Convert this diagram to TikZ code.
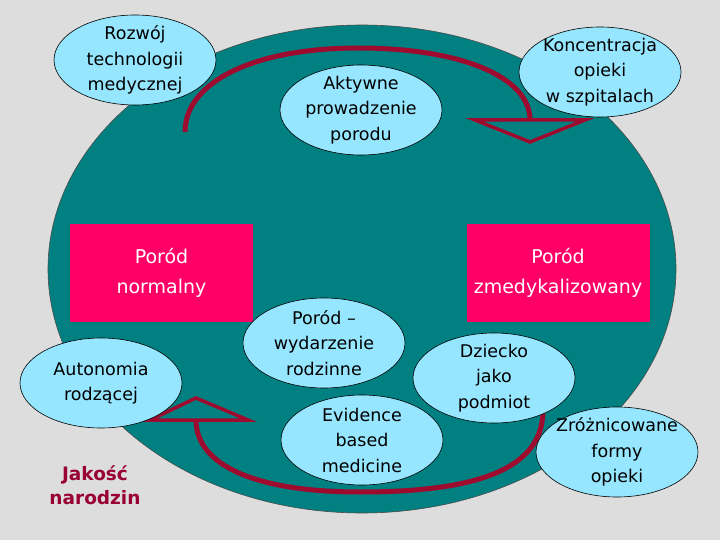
\documentclass[tikz,border=0pt]{standalone}
\usepackage{fontspec}
\setmainfont{DejaVu Sans}
\usetikzlibrary{shapes.geometric}
\definecolor{bgc}{HTML}{DDDDDD}
\definecolor{tealc}{HTML}{008080}
\definecolor{pinkc}{HTML}{FF0066}
\definecolor{bubc}{HTML}{96E6FF}
\definecolor{arcc}{HTML}{9E0B2F}
\definecolor{txtred}{HTML}{990033}
\begin{document}
\begin{tikzpicture}[x=1pt,y=-1pt,
  bubble/.style={ellipse, draw=black, line width=0.6pt, fill=bubc,
    minimum width=162pt, minimum height=90pt, inner sep=0pt},
  bubtxt/.style={align=center, inner sep=0pt, text=black,
    font=\fontsize{17.5}{25.5}\selectfont},
  pinkbox/.style={rectangle, fill=pinkc, draw=none, inner sep=0pt,
    minimum width=183pt, minimum height=98pt},
  pinktxt/.style={align=center, inner sep=0pt, text=white,
    font=\fontsize{19}{30}\selectfont},
  arcline/.style={draw=arcc, line width=5pt},
  headtri/.style={draw=arcc, line width=3.5pt, fill=tealc, line join=miter},
  redtxt/.style={align=center, inner sep=0pt, text=txtred,
    font=\bfseries\fontsize{18.5}{24}\selectfont}
]
\useasboundingbox (0,0) rectangle (720,540);
\fill[bgc] (0,0) rectangle (720,540);

% big teal ellipse
\node[ellipse, fill=tealc, draw=black!70, line width=0.6pt,
  minimum width=628pt, minimum height=488pt, inner sep=0pt] (big) at (362,269) {};

% pink boxes
\node[pinkbox] (pl) at (161.5,273) {};
\node[pinktxt] (plt) at (pl) {Poród\\normalny};
\node[pinkbox] (pr) at (558,273) {};
\node[pinktxt] (prt) at (pr) {Poród\\zmedykalizowany};

% top arc with hollow arrowhead
\coordinate (ts) at (185,132);
\coordinate (tm) at (358,48);
\coordinate (te) at (530,120);
\draw[arcline] (ts) .. controls (185,82) and (254,48) .. (tm)
  .. controls (461,48) and (530,77) .. (te);
\coordinate (ta1) at (475,120);
\coordinate (ta2) at (585,120);
\coordinate (ta3) at (530,142);
\draw[headtri] (ta1) -- (ta2) -- (ta3) -- cycle;

% bottom arc with hollow arrowhead
\coordinate (bs) at (543,410);
\coordinate (bm) at (360,492);
\coordinate (be) at (196,420);
\draw[arcline] (bs) .. controls (543,468) and (480,492) .. (bm)
  .. controls (255,492) and (196,465) .. (be);
\coordinate (ba1) at (150,420);
\coordinate (ba2) at (248,420);
\coordinate (ba3) at (196,398);
\draw[headtri] (ba1) -- (ba2) -- (ba3) -- cycle;

% bubbles
\node[bubble] (a) at (135,60) {};
\node[bubtxt] (at) at (a) {Rozwój\\technologii\\medycznej};
\node[bubble] (b) at (361,110) {};
\node[bubtxt] (bt) at (b) {Aktywne\\prowadzenie\\porodu};
\node[bubble] (c) at (600,72) {};
\node[bubtxt] (ct) at (c) {Koncentracja\\opieki\\w szpitalach};
\node[bubble] (d) at (101,383) {};
\node[bubtxt] (dt) at (d) {Autonomia\\rodzącej};
\node[bubble] (e) at (324,343) {};
\node[bubtxt] (et) at (e) {Poród –\\wydarzenie\\rodzinne};
\node[bubble] (f) at (362,440) {};
\node[bubtxt] (ft) at (f) {Evidence\\based\\medicine};
\node[bubble] (g) at (494,378) {};
\node[bubtxt] (gt) at (g) {Dziecko\\jako\\podmiot};
\node[bubble] (h) at (617,452) {};
\node[bubtxt] (ht) at (h) {Zróżnicowane\\formy\\opieki};

% quality label
\node[redtxt] (q) at (95,485) {Jakość\\narodzin};
\end{tikzpicture}
\end{document}
